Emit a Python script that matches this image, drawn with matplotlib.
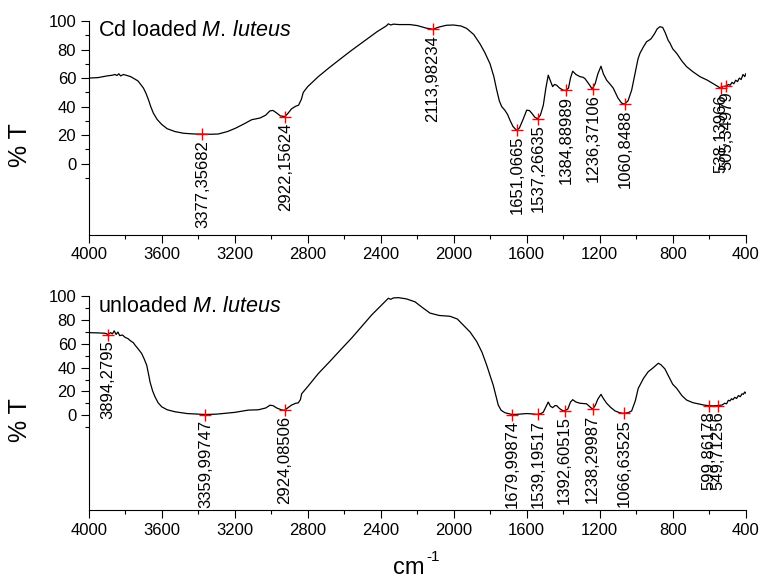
import numpy as np
import matplotlib
import matplotlib.pyplot as plt
matplotlib.use('Agg')

plt.rcParams['font.family'] = 'Liberation Sans'
plt.rcParams['mathtext.fontset'] = 'custom'
plt.rcParams['mathtext.rm'] = 'Liberation Sans'
plt.rcParams['mathtext.it'] = 'Liberation Sans:italic'

# Cd loaded M. luteus spectrum (wavenumber, %T)
cd_wavenumber = [4000, 3950, 3900, 3870, 3856, 3845, 3835, 3825, 3810, 3790, 3770, 3750, 3730,
                 3715, 3700, 3685, 3673, 3660, 3646, 3625, 3600, 3570, 3527, 3480, 3420, 3377,
                 3330, 3290, 3240, 3198, 3150, 3107, 3061, 3030, 3007, 2990, 2970, 2950, 2925,
                 2910, 2888, 2865, 2850, 2835, 2824, 2800, 2742, 2680, 2620, 2559, 2500, 2468,
                 2420, 2370, 2358, 2345, 2330, 2300, 2240, 2200, 2150, 2114, 2080, 2040, 2002,
                 1960, 1929, 1890, 1856, 1830, 1801, 1780, 1765, 1750, 1737, 1720, 1705, 1690,
                 1675, 1655, 1640, 1620, 1600, 1585, 1573, 1555, 1540, 1525, 1509, 1495, 1482,
                 1470, 1458, 1448, 1436, 1420, 1400, 1385, 1371, 1360, 1348, 1330, 1308, 1290,
                 1280, 1260, 1241, 1225, 1210, 1193, 1180, 1162, 1145, 1126, 1100, 1080, 1065,
                 1045, 1025, 1005, 990, 979, 960, 943, 930, 919, 900, 885, 870, 855, 840, 825,
                 815, 800, 778, 750, 724, 690, 651, 610, 570, 551, 538, 525, 505, 495, 485, 475,
                 465, 455, 445, 435, 425, 415, 405, 400]
cd_transmittance = [60, 60.3, 61.5, 62, 62.5, 61.8, 63, 61.5, 62.5, 61.8, 61, 59.5, 58,
                    55.5, 53, 49, 45, 40, 35.5, 31, 27.5, 24.5, 22.5, 21.3, 20.8, 20.7,
                    20.6, 20.8, 22.5, 24.7, 27.8, 30.8, 32, 34, 37, 37.3, 35.5, 33.5, 33,
                    35, 38.5, 40.3, 41, 45, 50, 54, 61, 67.5, 73.5, 79.5, 85, 88,
                    92.5, 96.5, 98, 97.2, 97.8, 97.5, 97.5, 96.8, 95, 94.2, 95.8, 97, 97.2,
                    96.5, 94.8, 90.5, 84, 78, 70, 61, 52, 44, 40, 37.5, 34.5, 30,
                    26, 23.3, 25, 31, 37.5, 37.2, 35.5, 32.5, 31.5, 34, 41, 53, 62,
                    58, 54, 55.5, 55, 53, 51.5, 51.3, 53, 60, 64.8, 62.5, 61, 60.5,
                    59.5, 56, 52.3, 56, 63, 68.3, 63, 58.5, 56, 53, 46, 42.5, 41.7,
                    44, 51.5, 64, 73.5, 77.5, 82, 85.5, 86.5, 87.5, 91, 94.5, 96, 95.5, 91.5, 86.5,
                    84.5, 80.5, 77.3, 72, 68, 64.5, 61, 58.5, 55.5, 54, 52.8, 54, 54.5, 55.5, 55, 57,
                    56, 58.5, 57.5, 60, 59, 62.5, 61, 63]
cd_peaks = [3377.35682, 2922.15624, 2113.98234, 1651.0665, 1537.26635, 1384.88989,
            1236.37106, 1060.8488, 538.13966, 505.34979]
cd_peak_t = [20.7, 33, 94.2, 23.3, 31.5, 51.3, 52.3, 41.7, 52.8, 54.5]
cd_peak_labels = ['3377,35682', '2922,15624', '2113,98234', '1651,0665', '1537,26635',
                  '1384,88989', '1236,37106', '1060,8488', '538,13966', '505,34979']

# unloaded M. luteus spectrum
un_wavenumber = [4000, 3950, 3910, 3894, 3880, 3870, 3860, 3850, 3840, 3830, 3815, 3800, 3785,
                 3770, 3755, 3746, 3730, 3710, 3695, 3682, 3670, 3664, 3650, 3637, 3620, 3600,
                 3570, 3527, 3460, 3400, 3360, 3300, 3253, 3200, 3160, 3126, 3070, 3030, 3007,
                 2990, 2970, 2945, 2928, 2910, 2888, 2865, 2852, 2840, 2833, 2800, 2742, 2680,
                 2620, 2559, 2500, 2449, 2400, 2358, 2345, 2330, 2303, 2260, 2212, 2170, 2130,
                 2080, 2020, 1980, 1948, 1910, 1874, 1845, 1819, 1800, 1783, 1770, 1756, 1740,
                 1719, 1680, 1640, 1600, 1570, 1540, 1520, 1509, 1495, 1482, 1470, 1458, 1445,
                 1436, 1420, 1400, 1392, 1375, 1360, 1348, 1330, 1308, 1272, 1250, 1239, 1225,
                 1210, 1193, 1180, 1162, 1140, 1116, 1090, 1071, 1045, 1025, 1005, 989, 960,
                 934, 910, 895, 879, 865, 843, 820, 800, 778, 750, 724, 690, 651, 630, 605,
                 580, 551, 530, 515, 505, 495, 486, 478, 470, 460, 450, 440, 430, 420, 413,
                 405, 400]
un_transmittance = [69.5, 69.3, 69, 68, 69.5, 68.5, 71, 68, 70, 67, 67.5, 65.5, 64.5,
                    62.5, 61, 59, 56, 52, 47, 42, 33, 28, 20.5, 15.5, 10.5, 7,
                    4.5, 2.8, 1.3, 0.8, 0.5, 0.8, 1.5, 2.3, 3.3, 4.2, 4.5, 6, 8.3,
                    8, 6, 4.5, 4, 6, 8.5, 10, 10.3, 13, 18, 24, 35, 45,
                    55, 65, 75.5, 84.5, 92, 98.5, 97.6, 98.8, 99, 98, 95.5, 90.5, 86,
                    84, 83.3, 81, 76, 70, 62, 53, 42, 33, 25, 17, 8.5, 4,
                    2, 0.5, 0.8, 1.3, 1, 0.6, 1.5, 2.5, 7, 11, 7.5, 6.3, 8,
                    8, 5.5, 3.5, 3.7, 5, 11, 13, 11, 10, 9.5, 6.5, 5, 8,
                    13.5, 17.5, 14, 10, 6.5, 3.5, 2, 1.5, 2, 3.5, 12, 22.5, 31,
                    36.6, 39.5, 41.5, 43.7, 42.5, 39, 32, 26, 22.5, 16.5, 12.7, 10.5, 9.2, 8.5, 8,
                    7.8, 8, 8.5, 10, 9.5, 12.5, 12, 13.8, 13, 15, 14, 16.5, 15.5, 18, 17.5,
                    19.5, 18.5]
un_peaks = [3894.2795, 3359.99747, 2924.08506, 1679.99874, 1539.19517, 1392.60515,
            1238.29987, 1066.63525, 599.86178, 549.71256]
un_peak_t = [67.6, 0.5, 4, 0.5, 0.7, 3.8, 5, 1.5, 7.8, 7.8]
un_peak_labels = ['3894,2795', '3359,99747', '2924,08506', '1679,99874', '1539,19517',
                  '1392,60515', '1238,29987', '1066,63525', '599,86178', '549,71256']


def plot_spectrum(ax, wn, t, peaks, peak_t, labels, title, ymin):
    ax.plot(wn, t, color='black', lw=0.9)
    ax.plot(peaks, peak_t, '+', color='red', ms=8, mew=1.0)
    for x, y, s in zip(peaks, peak_t, labels):
        ax.annotate(s, (x, y), xytext=(0, -4), textcoords='offset points',
                    rotation=90, ha='center', va='top', fontsize=12)

    ax.set_xlim(4000, 400)
    ax.set_ylim(ymin, 100)
    ax.set_xticks(np.arange(4000, 399, -400))
    ax.set_xticks(np.arange(3800, 399, -400), minor=True)
    ax.set_yticks(np.arange(0, 101, 20))
    ax.set_yticks(np.arange(-10, 100, 20), minor=True)
    ax.tick_params(which='major', direction='out', length=6, width=0.8, labelsize=12, pad=3)
    ax.tick_params(which='minor', direction='out', length=3, width=0.8)
    ax.spines['top'].set_visible(False)
    ax.spines['right'].set_visible(False)
    ax.set_ylabel('% T', fontsize=18)
    ax.yaxis.set_label_coords(-0.0863, 0.42)
    ax.text(0.014, 0.955, title, transform=ax.transAxes, ha='left', va='center', fontsize=15.5)


fig = plt.figure(figsize=(7.6, 5.85), dpi=100)
ax1 = fig.add_axes([0.1167, 0.5983, 0.8645, 0.3658])
ax2 = fig.add_axes([0.1167, 0.1282, 0.8645, 0.3650])

plot_spectrum(ax1, cd_wavenumber, cd_transmittance, cd_peaks, cd_peak_t, cd_peak_labels,
              r'Cd loaded $\mathit{M.\,luteus}$', -50)
plot_spectrum(ax2, un_wavenumber, un_transmittance, un_peaks, un_peak_t, un_peak_labels,
              r'unloaded $\mathit{M.\,luteus}$', -80)

# x axis unit, superscript drawn as plain text so the dash stays a hyphen
fig.text(393 / 760, 1 - 568 / 585, 'cm', ha='left', va='center', fontsize=17)
fig.text(426 / 760, 1 - 557 / 585, '-1', ha='left', va='center', fontsize=11)

fig.savefig('out.png', dpi=100)
